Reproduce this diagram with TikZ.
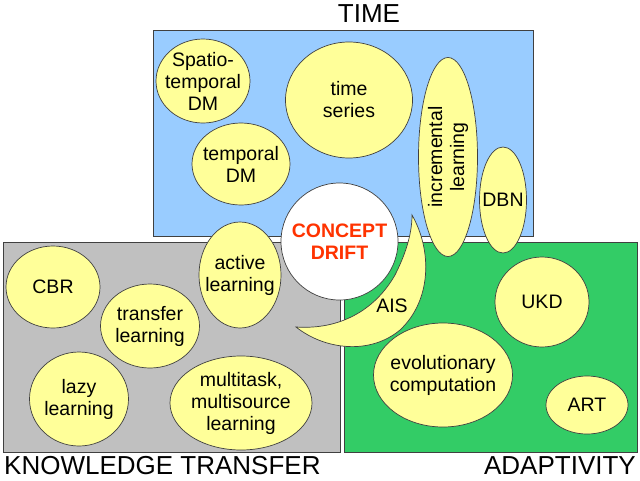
\documentclass[tikz,border=0pt]{standalone}
\usepackage{fontspec}
\setmainfont{Liberation Sans}
\usetikzlibrary{shapes.geometric}
\definecolor{timeblue}{HTML}{99CCFF}
\definecolor{ktgray}{HTML}{C0C0C0}
\definecolor{adgreen}{HTML}{33CC66}
\definecolor{blobyellow}{HTML}{FFFF99}
\definecolor{driftred}{HTML}{FF3300}
\definecolor{edgegray}{HTML}{404040}
\begin{document}
\begin{tikzpicture}[x=1pt,y=-1pt,
  area/.style={draw=edgegray, line width=0.7pt},
  blob/.style={ellipse, draw=edgegray, fill=blobyellow, line width=0.7pt, inner sep=0pt},
  txt/.style={align=center, inner sep=0pt, font=\fontsize{19.5}{22}\selectfont},
  title/.style={inner sep=0pt, font=\fontsize{26}{28}\selectfont}]
\useasboundingbox (0,0) rectangle (640,480);
\fill[white] (0,0) rectangle (640,480);
% areas
\draw[area, fill=timeblue] (153,30) rectangle (533,236);
\draw[area, fill=ktgray] (3,242) rectangle (340,452);
\draw[area, fill=adgreen] (344,242) rectangle (637,452);
% titles
\node[title] (ttime) at (369,13.5) {TIME};
\node[title, anchor=base west] (tkt) at (4,474.5) {KNOWLEDGE TRANSFER};
\node[title, anchor=base east] (tad) at (636,474.5) {ADAPTIVITY};
% TIME ellipses
\node[blob, minimum width=94pt, minimum height=84pt] (spatio) at (203,81) {};
\node[txt] at (spatio) {Spatio-\\temporal\\DM};
\node[blob, minimum width=127pt, minimum height=116pt] (tseries) at (349,100) {};
\node[txt] at (tseries) {time\\series};
\node[blob, minimum width=98pt, minimum height=82pt] (tdm) at (241,164) {};
\node[txt] at (tdm) {temporal\\DM};
\node[blob, minimum width=59pt, minimum height=199pt] (incr) at (448,157) {};
\node[txt, rotate=90] at (incr) {incremental\\learning};
\node[blob, minimum width=47pt, minimum height=106pt] (dbn) at (503,200) {};
\node[txt] at (dbn) {DBN};
% knowledge transfer ellipses
\node[blob, minimum width=94pt, minimum height=82pt] (cbr) at (53,287) {};
\node[txt] at (cbr) {CBR};
\node[blob, minimum width=99pt, minimum height=84pt] (transfer) at (150,326) {};
\node[txt] at (transfer) {transfer\\learning};
\node[blob, minimum width=99pt, minimum height=94pt] (lazy) at (79,399) {};
\node[txt] at (lazy) {lazy\\learning};
\node[blob, minimum width=142pt, minimum height=94pt] (multi) at (241,403) {};
\node[txt] at (multi) {multitask,\\multisource\\learning};
\node[blob, minimum width=82pt, minimum height=106pt] (active) at (240,275) {};
\node[txt] at (active) {active\\learning};
% adaptivity ellipses
\node[blob, minimum width=94pt, minimum height=90pt] (ukd) at (542,302) {};
\node[txt] at (ukd) {UKD};
\node[blob, minimum width=139pt, minimum height=104pt] (evo) at (443,375) {};
\node[txt] at (evo) {evolutionary\\computation};
\node[blob, minimum width=82pt, minimum height=58pt] (art) at (587,405) {};
\node[txt] at (art) {ART};
% AIS crescent
\draw[draw=edgegray, fill=blobyellow, line width=0.7pt]
  (412,215) .. controls (432,250) and (432,300) .. (400,330)
  .. controls (370,355) and (325,350) .. (296,327)
  .. controls (340,330) and (375,310) .. (395,275)
  .. controls (405,255) and (412,235) .. (412,215) -- cycle;
\node[txt] (ais) at (392,306) {AIS};
% concept drift
\node[circle, draw=edgegray, fill=white, line width=0.7pt, inner sep=0pt, minimum size=117pt] (drift) at (339.5,241.5) {};
\node[txt, font=\fontsize{19.5}{22}\selectfont\bfseries, text=driftred] at (drift) {CONCEPT\\DRIFT};
\end{tikzpicture}
\end{document}
